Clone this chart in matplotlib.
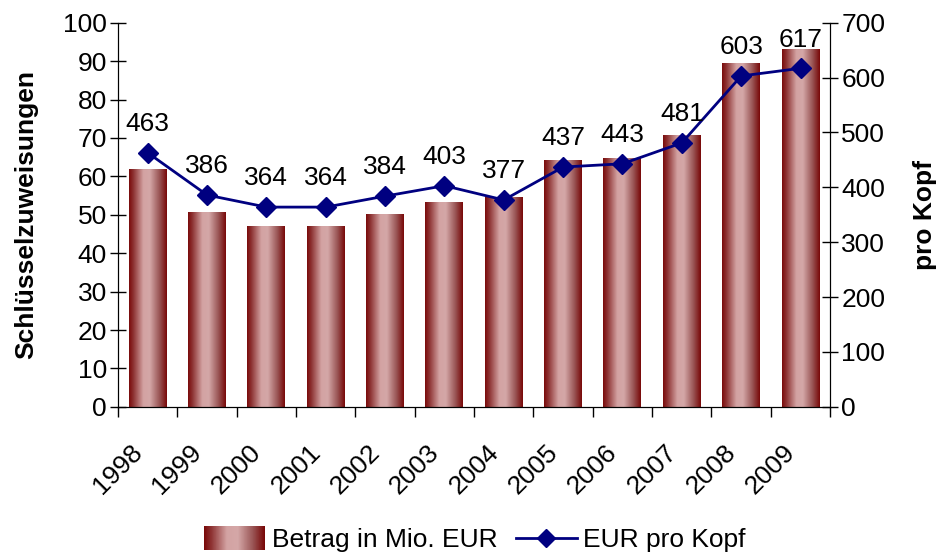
import matplotlib
matplotlib.use("Agg")
import matplotlib.pyplot as plt
import numpy as np
from matplotlib.colors import LinearSegmentedColormap
from matplotlib.legend_handler import HandlerBase
from matplotlib.lines import Line2D
from matplotlib.patches import Rectangle

plt.rcParams["font.family"] = ["Liberation Sans", "DejaVu Sans"]

years = ["1998", "1999", "2000", "2001", "2002", "2003",
         "2004", "2005", "2006", "2007", "2008", "2009"]
betrag = [61.8, 50.6, 47.2, 47.2, 50.1, 53.3, 54.6, 64.2, 64.8, 70.9, 89.6, 93.1]
pro_kopf = [463, 386, 364, 364, 384, 403, 377, 437, 443, 481, 603, 617]

FS = 19

# cylinder-like shading of the bars: dark edges, light middle
shade = LinearSegmentedColormap.from_list(
    "cyl", [(0.0, "#7a0a0a"), (0.12, "#8e3434"), (0.38, "#d3a3a3"),
            (0.55, "#d4a7a7"), (0.8, "#9a5656"), (1.0, "#780808")])
grad = np.linspace(0, 1, 256).reshape(1, -1)


class GradientHandler(HandlerBase):
    def create_artists(self, legend, orig_handle, xdescent, ydescent,
                       width, height, fontsize, trans):
        n = 60
        arts = []
        for i in range(n):
            r = Rectangle((xdescent + i * width / n - 0.2, ydescent - 2),
                          width / n + 0.4, height + 4,
                          facecolor=shade(i / (n - 1)), edgecolor="none",
                          transform=trans)
            arts.append(r)
        return arts


fig = plt.figure(figsize=(9.37, 5.55), dpi=100)
ax = fig.add_axes([0.126, 0.267, 0.76, 0.692])
ax2 = ax.twinx()

x = np.arange(len(years))
bars = ax.bar(x, betrag, width=0.64, facecolor="none", edgecolor="none")
for b in bars:
    im = ax.imshow(grad, cmap=shade, aspect="auto",
                   extent=[b.get_x(), b.get_x() + b.get_width(), 0, b.get_height()],
                   zorder=2)
    im.set_clip_path(b)

ax.set_xlim(-0.5, len(years) - 0.5)
ax.set_ylim(0, 100)
ax.set_yticks(np.arange(0, 101, 10))
ax.set_xticks(np.arange(-0.5, len(years), 1.0))
ax.set_xticklabels([])
# labels sit a little left of the category centre, like the original
ax.set_xticks(x - 0.15, minor=True)
ax.set_xticklabels(years, minor=True, rotation=45, ha="right", va="center",
                   rotation_mode="anchor", fontsize=FS)
ax.tick_params(axis="x", which="major", direction="out", length=7, width=1)
ax.tick_params(axis="x", which="minor", length=0, pad=30)
ax.tick_params(axis="y", direction="inout", length=12, width=1, labelsize=FS,
               pad=2)
ax.set_ylabel("Schlüsselzuweisungen", fontsize=FS, fontweight="bold", labelpad=18)
ax.spines["top"].set_visible(False)
ax2.spines["top"].set_visible(False)

ax2.plot(x, pro_kopf, color="#000080", linewidth=2, marker="D",
         markersize=10, zorder=3)
for xi, v in zip(x, pro_kopf):
    ax2.annotate(str(v), (xi, v), xytext=(0, 12), textcoords="offset points",
                 ha="center", va="bottom", fontsize=FS)
ax2.set_ylim(0, 700)
ax2.set_yticks(np.arange(0, 701, 100))
ax2.tick_params(axis="y", direction="inout", length=12, width=1, labelsize=FS,
                pad=2)
ax2.set_ylabel("pro Kopf", fontsize=FS, fontweight="bold", labelpad=20)
ax2.set_zorder(ax.get_zorder() + 1)
ax2.patch.set_visible(False)

bar_handle = Rectangle((0, 0), 1, 1)
line_handle = Line2D([], [], color="#000080", linewidth=2, marker="D",
                     markersize=9)
fig.legend([bar_handle, line_handle], ["Betrag in Mio. EUR", "EUR pro Kopf"],
           handler_map={Rectangle: GradientHandler()},
           loc="center", bbox_to_anchor=(0.507, 0.027), ncol=2, frameon=False,
           fontsize=FS, handlelength=2.3, handletextpad=0.25, columnspacing=0.7)

fig.savefig("out.png", dpi=100)
